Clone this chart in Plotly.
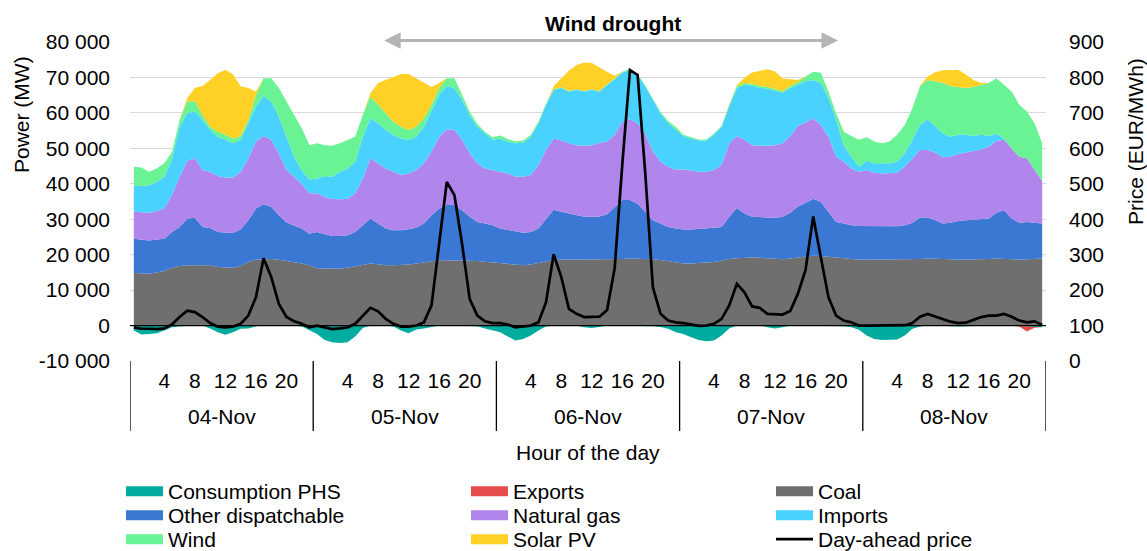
import plotly.graph_objects as go

# ---- data: hourly values, 04-Nov .. 08-Nov (hours 0..23 each day) ----
days = ["04-Nov", "05-Nov", "06-Nov", "07-Nov", "08-Nov"]
hours = list(range(24))
hour_ticks = [4, 8, 12, 16, 20]

coal = [
    14800, 14700, 14600, 15000, 15400, 16300, 16800, 17000, 17000, 17000, 17000, 16500,
    16300, 16300, 16800, 17900, 18600, 18800, 18800, 18600, 18300, 18000, 17500, 17000,
    16200, 16100, 16000, 16000, 16300, 16700, 17200, 17500, 17300, 17000, 17000, 17000,
    17200, 17500, 17800, 18200, 18400, 18400, 18400, 18400, 18300, 18200, 18000, 17800,
    17500, 17300, 17100, 17000, 17200, 17600, 18100, 18500, 18600, 18600, 18600, 18600,
    18600, 18600, 18600, 18600, 18800, 18900, 18900, 18800, 18700, 18500, 18200, 17900,
    17500, 17500, 17600, 17700, 17900, 18300, 18800, 19000, 19200, 19200, 19100, 19000,
    18800, 18700, 18900, 19200, 19500, 19700, 19600, 19400, 19000, 18800, 18700, 18600,
    18600, 18600, 18600, 18600, 18600, 18600, 18700, 18800, 18900, 18900, 18800, 18700,
    18600, 18600, 18700, 18800, 18800, 18900, 18900, 18700, 18600, 18700, 18800, 18900,
]

other_dispatchable = [
    9700, 9500, 9400, 9300, 9100, 10100, 11000, 13200, 13400, 10800, 10500, 9900,
    9900, 9800, 10400, 11800, 14400, 15400, 14700, 12500, 10800, 10300, 9900, 8900,
    10200, 9700, 9300, 9300, 9200, 9700, 11100, 12700, 11500, 10400, 9900, 9900,
    10000, 10100, 11000, 12900, 14600, 15600, 15600, 14100, 12400, 11000, 10800, 10500,
    9900, 9800, 9500, 9200, 9200, 9800, 12100, 14200, 13500, 13000, 12500, 12100,
    12100, 12200, 12800, 14900, 16600, 16500, 15500, 13300, 11000, 10300, 9600, 9500,
    9600, 9600, 9600, 9700, 9700, 9500, 11900, 14200, 12400, 11500, 11600, 11500,
    11600, 12000, 12900, 14400, 15100, 16100, 15300, 12700, 10200, 10000, 9600, 9500,
    9500, 9400, 9400, 9400, 9400, 9700, 10300, 11700, 11600, 10800, 10000, 10300,
    10900, 11100, 11200, 11300, 11400, 12900, 13600, 11500, 10400, 10500, 10300, 9900,
]

natural_gas = [
    7600, 7700, 7800, 8000, 8500, 10400, 14200, 16300, 16800, 16100, 15900, 15800,
    15600, 15700, 16200, 17500, 18900, 19300, 18900, 17500, 14800, 13700, 12500, 11400,
    10900, 10500, 10400, 10300, 10300, 10900, 13200, 17000, 17000, 16900, 16500, 15600,
    15700, 16300, 17000, 18000, 20300, 21400, 21200, 19900, 17900, 16600, 15500, 15600,
    16000, 15800, 15400, 15800, 16100, 17900, 19300, 20100, 20100, 19800, 19800, 20000,
    20200, 20800, 20500, 20300, 22100, 22800, 22700, 22100, 19400, 17400, 17000, 16500,
    17000, 16600, 16200, 16000, 16300, 17500, 20700, 20300, 20800, 20200, 20000, 20200,
    20500, 20700, 21700, 22700, 22700, 22700, 21700, 21200, 18400, 17400, 16000, 15300,
    15800, 15100, 14900, 14900, 15100, 16500, 18200, 19000, 19000, 19100, 18700, 18600,
    18900, 19100, 19400, 19600, 20300, 20300, 19900, 19800, 18600, 18000, 14800, 12000,
]

imports = [
    7500, 7400, 7800, 8300, 9000, 10200, 14100, 13400, 13200, 14100, 11800, 11100,
    10700, 9600, 9000, 9900, 9900, 11300, 10800, 10400, 9400, 5600, 4000, 3900,
    4200, 5900, 6300, 7800, 8500, 8900, 11800, 11300, 11300, 10900, 10400, 10300,
    9500, 9400, 10300, 11700, 11800, 12200, 11800, 11300, 10800, 10300, 9900, 8500,
    9400, 9000, 9400, 9600, 10800, 11800, 12800, 13700, 14800, 14600, 15600, 15300,
    15600, 14400, 16000, 15700, 13900, 14000, 13700, 13300, 14600, 13700, 12300, 11300,
    9400, 9100, 8800, 8800, 10000, 10700, 10500, 13500, 15500, 16800, 16400, 16100,
    15300, 14300, 13500, 11600, 11600, 10800, 11800, 10900, 10600, 4700, 3300, 1400,
    2600, 2700, 2900, 2900, 3100, 3800, 5200, 7100, 8700, 7300, 6700, 5700,
    5400, 5000, 4200, 4100, 3000, 2100, 300, 0, 0, 0, 0, 0,
]

wind = [
    5200, 5300, 3800, 3700, 3800, 2000, 1900, 3300, 2900, 1400, 900, 1400,
    1300, 1400, 1100, 900, 3200, 5000, 6600, 8000, 9900, 11800, 11800, 9700,
    9900, 8700, 8700, 8000, 8100, 7100, 6100, 6100, 5200, 4700, 3700, 3300,
    2800, 2800, 2400, 1500, 1900, 2200, 2800, 1400, 900, 800, 500, 700,
    800, 700, 600, 600, 500, 400, 300, 200, 200, 200, 200, 200,
    200, 200, 200, 200, 200, 200, 200, 200, 300, 400, 600, 800,
    300, 300, 300, 300, 300, 300, 400, 500, 500, 500, 500, 500,
    500, 500, 500, 800, 1400, 2300, 2900, 1800, 1700, 3800, 5900, 7600,
    6600, 6100, 5600, 6100, 7600, 8000, 8900, 10900, 11100, 12800, 14200, 14200,
    13500, 13200, 13800, 14100, 14900, 15600, 15200, 16000, 14700, 13200, 13200, 10600,
]

solar_pv = [
    0, 0, 0, 0, 0, 0, 0, 1000, 3700, 8200, 13200, 16500,
    18400, 18000, 14000, 9000, 1000, 0, 0, 0, 0, 0, 0, 0,
    0, 0, 0, 0, 0, 0, 0, 1000, 6100, 9400, 12800, 14900,
    15800, 13700, 9900, 5000, 1400, 0, 0, 0, 0, 0, 0, 0,
    0, 0, 0, 0, 0, 0, 0, 800, 2600, 5700, 6800, 8000,
    7400, 6600, 3500, 800, 0, 0, 0, 0, 0, 0, 0, 0,
    0, 0, 0, 0, 0, 0, 0, 300, 1500, 3200, 4200, 5000,
    5000, 3500, 2000, 600, 0, 0, 0, 0, 0, 0, 0, 0,
    0, 0, 0, 0, 0, 0, 0, 200, 1000, 2600, 3600, 4500,
    4900, 3800, 2000, 500, 0, 0, 0, 0, 0, 0, 0, 0,
]

consumption_phs = [
    -1400, -2500, -2400, -2200, -1400, -500, -200, 0, 0, 0, -800, -1900,
    -2600, -1900, -900, -800, -200, 0, 0, 0, 0, 0, -300, -1400,
    -2400, -4100, -4700, -4900, -4700, -3100, -700, 0, 0, 0, -300, -1400,
    -2200, -1100, -800, -300, 0, 0, 0, 0, 0, -200, -800, -1400,
    -1900, -3100, -4200, -3800, -2800, -1400, -300, 0, 0, 0, 0, -500,
    -700, -400, 0, 0, 0, 0, 0, 0, -200, -400, -900, -1900,
    -2400, -3300, -4100, -4400, -4200, -2800, -800, 0, 0, 0, 0, -500,
    -800, -500, 0, 0, 0, 0, 0, 0, 0, -200, -500, -1200,
    -2800, -3800, -4100, -4100, -3900, -2800, -900, -300, 0, 0, 0, -200,
    -300, -200, 0, 0, 0, 0, 0, 0, 0, -200, -400, -500,
]

exports = [0] * 116 + [-300, -1500, -200, 0]

day_ahead_price = [
    95, 91, 91, 90, 92, 103, 124, 142, 138, 124, 107, 97,
    95, 97, 105, 128, 180, 290, 237, 161, 124, 112, 105, 95,
    100, 95, 90, 92, 95, 105, 128, 150, 140, 119, 105, 97,
    97, 100, 109, 157, 331, 505, 468, 331, 175, 128, 112, 107,
    107, 103, 95, 97, 100, 109, 166, 301, 237, 147, 133, 124,
    124, 125, 144, 263, 557, 821, 807, 530, 208, 133, 114, 109,
    107, 103, 99, 100, 105, 119, 157, 218, 194, 154, 150, 133,
    133, 131, 141, 190, 257, 408, 293, 180, 128, 114, 109, 100,
    100, 100, 99, 99, 99, 101, 107, 125, 133, 126, 118, 111,
    107, 108, 116, 124, 128, 128, 133, 125, 114, 109, 112, 102,
]

power_ticks = list(range(-10000, 80001, 10000))
price_ticks = list(range(0, 901, 100))

# ---- helpers ----
FONT = "Liberation Sans, Arial, sans-serif"
FS = 21
W, H = 1147, 551
x = [d * 24 + h for d in range(len(days)) for h in hours]


def fmt_thousands(v):
    return f"{v:,}".replace(",", " ")


fig = go.Figure()

# name, values, colour, stack group, legend column, legend row
stack_series = [
    ("Consumption PHS", consumption_phs, "#00AB9F", "neg", 0, 0),
    ("Exports", exports, "#E64C4B", "neg", 1, 0),
    ("Coal", coal, "#6E6F6E", "pos", 2, 0),
    ("Other dispatchable", other_dispatchable, "#3B78D3", "pos", 0, 1),
    ("Natural gas", natural_gas, "#B085EC", "pos", 1, 1),
    ("Imports", imports, "#4AD2FE", "pos", 2, 1),
    ("Wind", wind, "#69F394", "pos", 0, 2),
    ("Solar PV", solar_pv, "#FFD026", "pos", 1, 2),
]
for name, vals, color, group, _, _ in stack_series:
    fig.add_trace(go.Scatter(
        x=x, y=vals, name=name, mode="lines", stackgroup=group,
        line=dict(width=0, color=color), fillcolor=color,
        showlegend=False, hoverinfo="skip",
    ))

fig.add_trace(go.Scatter(
    x=x, y=day_ahead_price, name="Day-ahead price", mode="lines",
    line=dict(color="black", width=2.7), yaxis="y2", showlegend=False,
    hoverinfo="skip",
))

# ---- legend: one entry per slot of a 3 x 3 grid ----
col_left = [121, 466, 771]
row_top = [471, 495, 519]
legend_entries = [(n, c, col, row, 10) for n, _, c, _, col, row in stack_series]
legend_entries.append(("Day-ahead price", "black", 2, 2, 2.7))

leg_layout = {}
for i, (name, color, col, row, lw) in enumerate(legend_entries):
    key = "legend" if i == 0 else f"legend{i + 1}"
    fig.add_trace(go.Scatter(
        x=[None], y=[None], mode="lines", name=name,
        line=dict(color=color, width=lw), legend=key, hoverinfo="skip",
    ))
    leg_layout[key] = dict(
        x=col_left[col] / W, y=1 - row_top[row] / H,
        xref="container", yref="container", xanchor="left", yanchor="top",
        orientation="v", bgcolor="rgba(0,0,0,0)", itemwidth=37,
        font=dict(family=FONT, size=FS, color="black"),
    )

# ---- axes ----
fig.update_layout(
    width=W, height=H,
    margin=dict(l=130, r=101, t=42, b=190, autoexpand=False),
    plot_bgcolor="white", paper_bgcolor="white",
    font=dict(family=FONT, size=FS, color="black"),
    xaxis=dict(
        range=[-0.5, len(x) - 0.5], showgrid=False, zeroline=False,
        tickmode="array",
        tickvals=[d * 24 + h for d in range(len(days)) for h in hour_ticks],
        ticktext=[str(h) for _ in days for h in hour_ticks],
        ticks="", ticklabelstandoff=5, showline=False,
    ),
    yaxis=dict(
        range=[-10000, 80000], tickmode="array", tickvals=power_ticks,
        ticktext=[fmt_thousands(v) for v in power_ticks],
        showgrid=True, gridcolor="#D9D9D9", gridwidth=1, zeroline=False,
        ticks="", ticklabelstandoff=19, showline=False,
    ),
    yaxis2=dict(
        range=[0, 900], overlaying="y", side="right", tickmode="array",
        tickvals=price_ticks, ticktext=[str(v) for v in price_ticks],
        showgrid=False, zeroline=False, ticks="", ticklabelstandoff=22,
        showline=False,
    ),
    showlegend=True,
    **leg_layout,
)

# ---- category axis decoration: day labels and separators ----
for d, day in enumerate(days):
    fig.add_annotation(
        x=d * 24 + 11.5, xref="x", y=-55 / 319, yref="paper",
        text=day, showarrow=False, yanchor="middle",
        font=dict(family=FONT, size=FS),
    )
for d in range(len(days) + 1):
    fig.add_shape(
        type="line", xref="x", yref="paper",
        x0=d * 24 - 0.5, x1=d * 24 - 0.5, y0=0, y1=-70 / 319,
        line=dict(color="black", width=1.3), layer="above",
    )

# zero line of the power axis
fig.add_shape(
    type="line", xref="paper", yref="y", x0=0, x1=1, y0=0, y1=0,
    line=dict(color="black", width=1.3), layer="above",
)

fig.add_annotation(
    x=0.5, xref="paper", y=-91 / 319, yref="paper", text="Hour of the day",
    showarrow=False, yanchor="middle", font=dict(family=FONT, size=FS),
)
fig.add_annotation(
    x=(22 - 130) / 916, xref="paper", y=1 - (115 - 42) / 319, yref="paper",
    text="Power (MW)", textangle=-90, showarrow=False,
    xanchor="center", yanchor="middle", font=dict(family=FONT, size=FS),
)
fig.add_annotation(
    x=(1135 - 130) / 916, xref="paper", y=1 - (142 - 42) / 319, yref="paper",
    text="Price (EUR/MWh)", textangle=-90, showarrow=False,
    xanchor="center", yanchor="middle", font=dict(family=FONT, size=FS),
)

# wind drought period marker: double-headed arrow above the plot
fig.add_annotation(
    x=92.25, xref="x", y=1 + 1.5 / 319, yref="paper",
    ax=32.6, axref="x", ay=0, ayref="pixel",
    text="", showarrow=True, arrowside="end+start",
    arrowhead=2, arrowsize=1.1, arrowwidth=3, arrowcolor="#B4B4B4",
)
fig.add_annotation(
    x=(613 - 130) / 916, xref="paper", y=1 + (42 - 23) / 319, yref="paper",
    text="<b>Wind drought</b>", showarrow=False, yanchor="middle",
    font=dict(family=FONT, size=FS),
)

fig.write_html("out.html")
